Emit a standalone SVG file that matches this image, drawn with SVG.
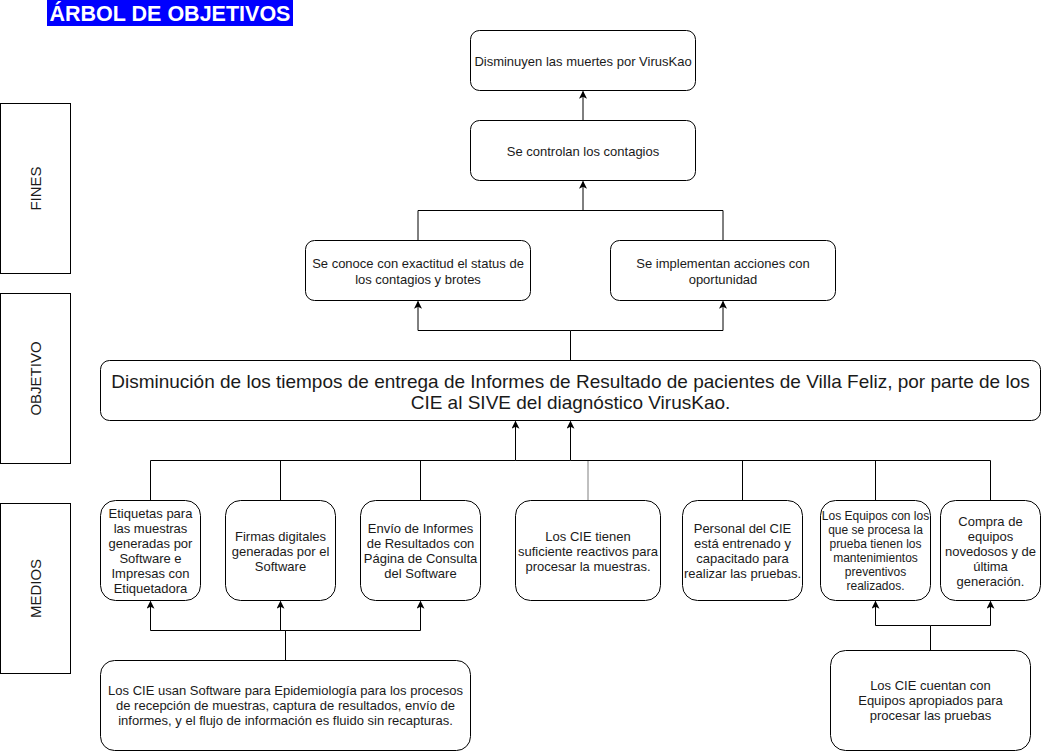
<svg xmlns="http://www.w3.org/2000/svg" width="1041" height="751" viewBox="0 0 1041 751">
<style>
.box{fill:#fff;stroke:#000;stroke-width:1}
.t{font-family:"Liberation Sans",Arial,sans-serif;font-size:13px;fill:#1a1a1a;text-anchor:middle}
.t12{font-size:12px}
.big{font-size:19px}
.side{font-family:"Liberation Sans",Arial,sans-serif;font-size:15px;fill:#1a1a1a;text-anchor:middle}
.c{fill:none;stroke:#000;stroke-width:1}
.title{font-family:"Liberation Sans",Arial,sans-serif;font-size:21.5px;font-weight:bold;fill:#fff;text-anchor:middle}
</style>
<defs>
<marker id="arr" viewBox="0 0 10 10" refX="9" refY="5" markerWidth="8" markerHeight="8" markerUnits="userSpaceOnUse" orient="auto">
<path d="M0,0 L10,5 L0,10 L2.5,5 Z" fill="#000"/>
</marker>
</defs>
<rect width="1041" height="751" fill="#fff"/>

<g id="title">
<rect x="47" y="0" width="246" height="26" fill="#0000ff"/>
<text class="title" x="170" y="20.5">ÁRBOL DE OBJETIVOS</text>
</g>

<g id="side-fines">
<rect class="box" x="0.5" y="103.5" width="70" height="170"/>
<text class="side" transform="translate(40.5,188.5) rotate(-90)">FINES</text>
</g>
<g id="side-objetivo">
<rect class="box" x="0.5" y="293.5" width="70" height="170"/>
<text class="side" transform="translate(40.5,378.5) rotate(-90)">OBJETIVO</text>
</g>
<g id="side-medios">
<rect class="box" x="0.5" y="503.5" width="70" height="170"/>
<text class="side" transform="translate(40.5,588.5) rotate(-90)">MEDIOS</text>
</g>

<g id="connectors">
<path class="c" d="M583,120.5 V91.5" marker-end="url(#arr)"/>
<path class="c" d="M418,240.5 V210.5 H583 V181.5" marker-end="url(#arr)"/>
<path class="c" d="M723,240.5 V210.5 H583"/>
<path class="c" d="M570.5,360.5 V330.5 H418 V301.5" marker-end="url(#arr)"/>
<path class="c" d="M570.5,330.5 H723 V301.5" marker-end="url(#arr)"/>
<path class="c" d="M150.5,500.5 V460.5 H515.5 V421.5" marker-end="url(#arr)"/>
<path class="c" d="M280.5,500.5 V460.5"/>
<path class="c" d="M420.5,500.5 V460.5"/>
<path class="c" d="M515.5,460.5 H570.5 V421.5" marker-end="url(#arr)"/>
<path class="c" d="M588,500.5 V460.5" style="stroke:#808080"/>
<path class="c" d="M570.5,460.5 H990.5 V500.5"/>
<path class="c" d="M742.5,460.5 V500.5"/>
<path class="c" d="M875.5,460.5 V500.5"/>
<path class="c" d="M285.5,660.5 V630.5 H150.5 V601.5" marker-end="url(#arr)"/>
<path class="c" d="M285.5,630.5 H280.5 V601.5" marker-end="url(#arr)"/>
<path class="c" d="M285.5,630.5 H420.5 V601.5" marker-end="url(#arr)"/>
<path class="c" d="M930.5,650.5 V625.5 H875.5 V601.5" marker-end="url(#arr)"/>
<path class="c" d="M930.5,625.5 H990.5 V601.5" marker-end="url(#arr)"/>
</g>

<g id="n-disminuyen">
<rect class="box" x="470.5" y="30.5" width="225" height="60" rx="9"/>
<text class="t" x="583" y="66">Disminuyen las muertes por VirusKao</text>
</g>
<g id="n-controlan">
<rect class="box" x="470.5" y="120.5" width="225" height="60" rx="9"/>
<text class="t" x="583" y="156">Se controlan los contagios</text>
</g>
<g id="n-conoce">
<rect class="box" x="305.5" y="240.5" width="225" height="60" rx="9"/>
<text class="t" x="418" y="268"><tspan x="418" y="268">Se conoce con exactitud el status de</tspan><tspan x="418" y="284">los contagios y brotes</tspan></text>
</g>
<g id="n-implementan">
<rect class="box" x="610.5" y="240.5" width="225" height="60" rx="9"/>
<text class="t" x="723" y="268"><tspan x="723" y="268">Se implementan acciones con</tspan><tspan x="723" y="284">oportunidad</tspan></text>
</g>
<g id="n-objetivo">
<rect class="box" x="100.5" y="360.5" width="940" height="60" rx="9"/>
<text class="t big"><tspan x="570.5" y="388">Disminución de los tiempos de entrega de Informes de Resultado de pacientes de Villa Feliz, por parte de los</tspan><tspan x="570.5" y="409">CIE al SIVE del diagnóstico VirusKao.</tspan></text>
</g>

<g id="n-etiquetas">
<rect class="box" x="100.5" y="500.5" width="100" height="100" rx="15"/>
<text class="t"><tspan x="150.5" y="518">Etiquetas para</tspan><tspan x="150.5" y="533">las muestras</tspan><tspan x="150.5" y="548">generadas por</tspan><tspan x="150.5" y="563">Software e</tspan><tspan x="150.5" y="578">Impresas con</tspan><tspan x="150.5" y="593">Etiquetadora</tspan></text>
</g>
<g id="n-firmas">
<rect class="box" x="225.5" y="500.5" width="110" height="100" rx="15"/>
<text class="t"><tspan x="280.5" y="541">Firmas digitales</tspan><tspan x="280.5" y="556">generadas por el</tspan><tspan x="280.5" y="571">Software</tspan></text>
</g>
<g id="n-envio">
<rect class="box" x="360.5" y="500.5" width="120" height="100" rx="15"/>
<text class="t"><tspan x="420.5" y="533">Envío de Informes</tspan><tspan x="420.5" y="548">de Resultados con</tspan><tspan x="420.5" y="563">Página de Consulta</tspan><tspan x="420.5" y="578">del Software</tspan></text>
</g>
<g id="n-reactivos">
<rect class="box" x="515.5" y="500.5" width="145" height="100" rx="15"/>
<text class="t"><tspan x="588" y="540.5">Los CIE tienen</tspan><tspan x="588" y="555.5">suficiente reactivos para</tspan><tspan x="588" y="570.5">procesar la muestras.</tspan></text>
</g>
<g id="n-personal">
<rect class="box" x="682.5" y="500.5" width="120" height="100" rx="15"/>
<text class="t"><tspan x="742.5" y="533">Personal del CIE</tspan><tspan x="742.5" y="548">está entrenado y</tspan><tspan x="742.5" y="563">capacitado para</tspan><tspan x="742.5" y="578">realizar las pruebas.</tspan></text>
</g>
<g id="n-mantenimiento">
<rect class="box" x="820.5" y="500.5" width="110" height="100" rx="15"/>
<text class="t t12"><tspan x="875.5" y="520">Los Equipos con los</tspan><tspan x="875.5" y="534">que se procesa la</tspan><tspan x="875.5" y="548">prueba tienen los</tspan><tspan x="875.5" y="562">mantenimientos</tspan><tspan x="875.5" y="576">preventivos</tspan><tspan x="875.5" y="590">realizados.</tspan></text>
</g>
<g id="n-compra">
<rect class="box" x="940.5" y="500.5" width="100" height="100" rx="15"/>
<text class="t"><tspan x="990.5" y="525.5">Compra de</tspan><tspan x="990.5" y="540.5">equipos</tspan><tspan x="990.5" y="555.5">novedosos y de</tspan><tspan x="990.5" y="570.5">última</tspan><tspan x="990.5" y="585.5">generación.</tspan></text>
</g>

<g id="n-software">
<rect class="box" x="100.5" y="660.5" width="370" height="90" rx="14"/>
<text class="t"><tspan x="285.5" y="695">Los CIE usan Software para Epidemiología para los procesos</tspan><tspan x="285.5" y="710">de recepción de muestras, captura de resultados, envío de</tspan><tspan x="285.5" y="725">informes, y el flujo de información es fluido sin recapturas.</tspan></text>
</g>
<g id="n-equipos">
<rect class="box" x="830.5" y="650.5" width="200" height="100" rx="15"/>
<text class="t"><tspan x="930.5" y="690">Los CIE cuentan con</tspan><tspan x="930.5" y="705">Equipos apropiados para</tspan><tspan x="930.5" y="720">procesar las pruebas</tspan></text>
</g>
</svg>
